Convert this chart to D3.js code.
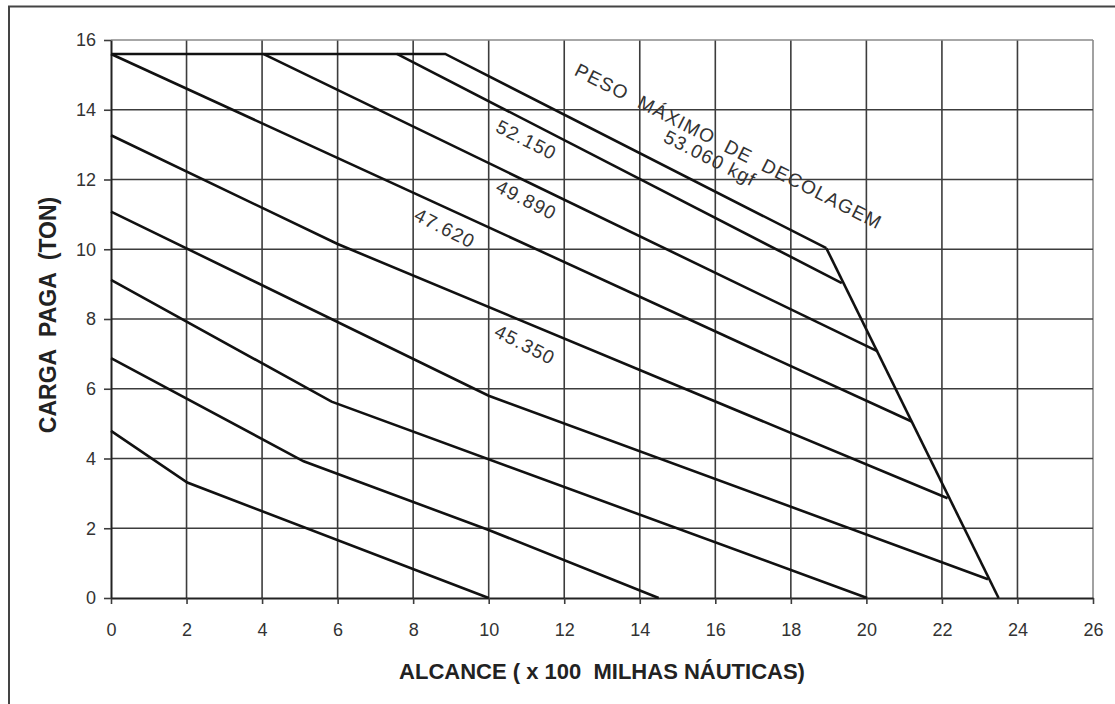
<!DOCTYPE html>
<html>
<head>
<meta charset="utf-8">
<script src="https://cdn.jsdelivr.net/npm/d3@7"></script>
<style>
  html, body { margin: 0; padding: 0; background: #fff; }
  svg { display: block; }
  text { white-space: pre; }
</style>
</head>
<body>
<div id="chart"></div>
<script>
// Tick values
const xTicks = [0, 2, 4, 6, 8, 10, 12, 14, 16, 18, 20, 22, 24, 26];
const yTicks = [0, 2, 4, 6, 8, 10, 12, 14, 16];

// Curves: [alcance (x100 nm), carga paga (ton)]
const curve53060 = [[0, 15.6], [8.85, 15.6], [18.94, 10.03]];
const curve52150 = [[7.57, 15.6], [19.35, 9.03]];
const curve49890 = [[4.03, 15.6], [20.3, 7.07]];
const curve47620 = [[0, 15.6], [21.2, 5.06]];
const curve45350 = [[0, 13.27], [6, 10.15], [22.15, 2.86]];
const curveA = [[0, 11.08], [10, 5.8], [23.22, 0.54]];
const curveB = [[0, 9.12], [5.84, 5.63], [20.02, 0]];
const curveC = [[0, 6.88], [5.1, 3.92], [10, 1.95], [14.5, 0]];
const curveD = [[0, 4.79], [2.02, 3.31], [10, 0]];
const limitLine = [[18.94, 10.03], [23.5, 0]];

const curves = [curve53060, curve52150, curve49890, curve47620, curve45350,
                curveA, curveB, curveC, curveD, limitLine];

// Annotations (data coords)
const labelTexts = ['52.150', '49.890', '47.620', '45.350', '53.060 kgf', 'PESO  MÁXIMO  DE  DECOLAGEM'];
const labelX = [11.0, 11.0, 8.84, 10.96, 15.86, 16.35];
const labelY = [13.13, 11.41, 10.6, 7.26, 12.61, 12.95];

const W = 1115, H = 704;
const margin = { left: 111, top: 40, right: 22, bottom: 106 };
const width = W - margin.left - margin.right;
const height = H - margin.top - margin.bottom;

const font = '"Liberation Sans", Arial, sans-serif';

const svg = d3.select('#chart').append('svg')
    .attr('width', W)
    .attr('height', H);

// Outer frame (runs off the right/bottom edge)
svg.append('rect')
    .attr('x', 9).attr('y', 6.5)
    .attr('width', 1300).attr('height', 900)
    .attr('fill', 'none')
    .attr('stroke', '#444')
    .attr('stroke-width', 2);

const x = d3.scaleLinear().domain([0, 26]).range([0, width]);
const y = d3.scaleLinear().domain([0, 16]).range([height, 0]);

const g = svg.append('g').attr('transform', `translate(${margin.left},${margin.top})`);

// Grid lines
g.append('g').selectAll('line')
    .data(xTicks.slice(1))
    .join('line')
    .attr('x1', d => x(d)).attr('x2', d => x(d))
    .attr('y1', 0).attr('y2', height)
    .attr('stroke', d => d === 26 ? '#8a8a8a' : '#3c3c3c')
    .attr('stroke-width', 1.6);

g.append('g').selectAll('line')
    .data(yTicks.slice(1))
    .join('line')
    .attr('x1', 0).attr('x2', width)
    .attr('y1', d => y(d)).attr('y2', d => y(d))
    .attr('stroke', d => d === 16 ? '#8a8a8a' : '#3c3c3c')
    .attr('stroke-width', 1.6);

// Axes
const xAxis = g.append('g')
    .attr('transform', `translate(0,${height})`)
    .call(d3.axisBottom(x).tickValues(xTicks).tickSize(6).tickPadding(19).tickSizeOuter(0));
const yAxis = g.append('g')
    .call(d3.axisLeft(y).tickValues(yTicks).tickSize(7).tickPadding(8).tickSizeOuter(0));

[xAxis, yAxis].forEach(a => {
    a.select('.domain').attr('stroke', '#222').attr('stroke-width', 2);
    a.selectAll('.tick line').attr('stroke', '#3c3c3c').attr('stroke-width', 1.6);
    a.selectAll('.tick text')
        .attr('font-family', font)
        .attr('font-size', '18px')
        .attr('fill', '#333');
});

// Curves
const line = d3.line().x(d => x(d[0])).y(d => y(d[1]));
g.append('g').selectAll('path')
    .data(curves)
    .join('path')
    .attr('d', line)
    .attr('fill', 'none')
    .attr('stroke', '#111')
    .attr('stroke-width', 2.6)
    .attr('stroke-linejoin', 'miter');

// Annotations
g.append('g').selectAll('text')
    .data(labelTexts)
    .join('text')
    .attr('transform', (d, i) => `translate(${x(labelX[i])},${y(labelY[i])}) rotate(27)`)
    .attr('text-anchor', 'middle')
    .attr('dominant-baseline', 'central')
    .attr('font-family', font)
    .attr('font-size', '19px')
    .attr('letter-spacing', '1.2px')
    .attr('fill', '#333')
    .text(d => d);

// Axis titles
svg.append('text')
    .attr('x', margin.left + width / 2)
    .attr('y', 671)
    .attr('text-anchor', 'middle')
    .attr('dominant-baseline', 'central')
    .attr('font-family', font)
    .attr('font-size', '22px')
    .attr('font-weight', 'bold')
    .attr('fill', '#222')
    .text('ALCANCE ( x 100  MILHAS NÁUTICAS)');

svg.append('text')
    .attr('transform', `translate(48,${margin.top + height / 2 - 4}) rotate(-90)`)
    .attr('text-anchor', 'middle')
    .attr('dominant-baseline', 'central')
    .attr('font-family', font)
    .attr('font-size', '23px')
    .attr('font-weight', 'bold')
    .attr('fill', '#222')
    .text('CARGA  PAGA  (TON)');
</script>
</body>
</html>
